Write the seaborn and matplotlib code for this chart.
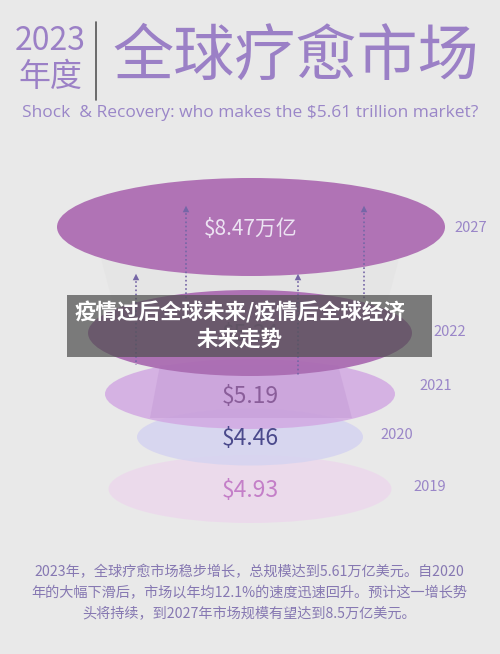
import matplotlib
matplotlib.use("Agg")
import matplotlib.pyplot as plt
from matplotlib.patches import Ellipse, Rectangle, Polygon
import seaborn as sns
import pandas as pd

# data
years = ["2019", "2020", "2021", "2022", "2027"]
values = [4.93, 4.46, 5.19, 5.34, 8.47]
value_labels = ["$4.93", "$4.46", "$5.19", "$5.34", "$8.47万亿"]

# layout (pixels) for each ring
ring_cx = [250, 250, 250, 250, 251]
ring_cy = [489, 437, 394, 333, 227]
ring_w = [283, 226, 290, 324, 388]
ring_h = [68, 57, 70, 86, 98]
ring_colors = ["#ecd9ec", "#d6d4f0", "#d2a9e3", "#aa6cb2", "#b073b5"]
ring_alpha = [0.9, 0.9, 0.85, 0.95, 1.0]
value_colors = ["#c47fc8", "#4b4a8c", "#8a5e9a", "#8a5e9a", "#ece3f2"]
value_sizes = [16.5, 16.5, 16.5, 16.5, 15]
year_x = [430, 397, 436, 450, 471]
year_y = [487, 435, 386, 332, 228]

# dotted arrows
arrow_x = [136, 186, 298, 364]
arrow_top = [277, 209, 277, 209]
arrow_bottom = [365, 300, 377, 300]

body = ["2023年，全球疗愈市场稳步增长，总规模达到5.61万亿美元。自2020",
        "年的大幅下滑后，市场以年均12.1%的速度迅速回升。预计这一增长势",
        "头将持续，到2027年市场规模有望达到8.5万亿美元。"]

sns.set_theme(style="white")
plt.rcParams['font.family'] = ['Noto Sans CJK SC', 'DejaVu Sans']

bg = "#e9e9e9"
purple = "#9b80c6"
fig = plt.figure(figsize=(5, 6.54), dpi=100, facecolor=bg)
ax = fig.add_axes([0, 0, 1, 1])
ax.set_facecolor(bg)

# header
ax.text(50, 41, "2023", fontsize=23, color=purple, ha="center", va="center")
ax.text(50, 77, "年度", fontsize=23, color=purple, ha="center", va="center")
ax.plot([96, 96], [22, 100], color="#555555", lw=1.2)
ax.text(296, 58, "全球疗愈市场", fontsize=44, color=purple, ha="center", va="center")
ax.text(250, 113, "Shock  & Recovery: who makes the $5.61 trillion market?",
        fontsize=12.5, color="#9a86c8", ha="center", va="center", family="Open Sans")

# faint funnel shapes
ax.add_patch(Polygon([[100, 255], [400, 255], [380, 330], [120, 330]],
                     closed=True, color="#e2e2e2", alpha=0.5, zorder=0.5, lw=0))
ax.add_patch(Polygon([[160, 365], [338, 365], [352, 418], [150, 418]],
                     closed=True, color="#c49bd6", alpha=0.5, zorder=3.5, lw=0))

# rings, bottom first
for i in range(len(years)):
    ax.add_patch(Ellipse((ring_cx[i], ring_cy[i]), ring_w[i], ring_h[i],
                         facecolor=ring_colors[i], alpha=ring_alpha[i], lw=0, zorder=1 + i))
    ax.text(ring_cx[i], ring_cy[i] + 2, value_labels[i], fontsize=value_sizes[i],
            color=value_colors[i], ha="center", va="center", zorder=10)
    ax.text(year_x[i], year_y[i], years[i], fontsize=10.5, color="#9a86c8",
            ha="center", va="center")

# dotted arrows
ax.vlines(arrow_x, arrow_top, arrow_bottom, colors="#7566a6", linestyles=(0, (1, 1.5)),
          lw=1.2, zorder=8)
heads = pd.DataFrame({"x": arrow_x, "y": arrow_top})
sns.scatterplot(data=heads, x="x", y="y", marker="^", s=22, color="#7566a6",
                edgecolor="none", ax=ax, zorder=9, legend=False)
ax.set_xlim(0, 500)
ax.set_ylim(654, 0)
ax.axis("off")

# banner
ax.add_patch(Rectangle((67, 295), 365, 62, facecolor="#505050", alpha=0.72, lw=0, zorder=20))
ax.text(240, 312, "疫情过后全球未来/疫情后全球经济", fontsize=15.5, fontweight="bold",
        color="white", ha="center", va="center", zorder=21)
ax.text(240, 339, "未来走势", fontsize=15.5, fontweight="bold",
        color="white", ha="center", va="center", zorder=21)

# bottom paragraph
for j, line in enumerate(body):
    ax.text(249, 572 + j * 21, line, fontsize=10.2, color="#8678b2",
            ha="center", va="center")

fig.savefig("out.png", dpi=100, facecolor=bg)
